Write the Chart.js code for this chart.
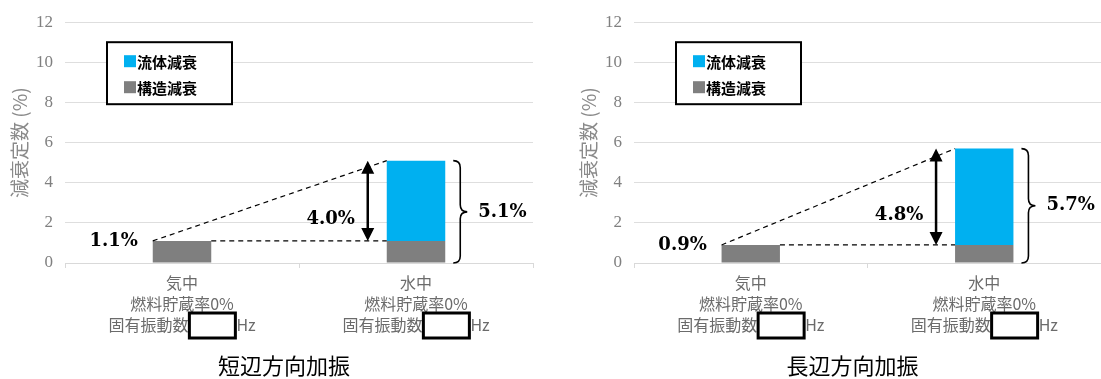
<!DOCTYPE html>
<html lang="ja">
<head>
<meta charset="utf-8">
<script src="https://cdn.jsdelivr.net/npm/chart.js@4.4.1/dist/chart.umd.min.js"></script>
<style>
  html, body { margin: 0; padding: 0; background: #fff; overflow: hidden; }
  #wrap { position: relative; width: 1101px; height: 379px; }
  canvas { position: absolute; top: 0; }
  #c1 { left: 0; }
  #c2 { left: 569px; }
</style>
</head>
<body>
<div id="wrap">
  <canvas id="c1" width="569" height="379"></canvas>
  <canvas id="c2" width="532" height="379"></canvas>
</div>
<script>
"use strict";

const categories = ["気中", "水中"];
const storageLabel = "燃料貯蔵率0%";
const freqLabel = "固有振動数";
const seriesNames = ["構造減衰", "流体減衰"];
const yTitle = "減衰定数 (%)";

const shortStructural = [1.1, 1.1];
const shortFluid = [0, 4.0];
const longStructural = [0.9, 0.9];
const longFluid = [0, 4.8];

const chartTitles = ["短辺方向加振", "長辺方向加振"];

const BLUE = "#00b0f0";
const GREY = "#7f7f7f";
const CJK = "'Noto Sans CJK JP', sans-serif";
const SERIF = "'DejaVu Serif', serif";
const GAP = "\u3000\u3000\u3000";

const pct = (v) => v.toFixed(1) + "%";

function drawBrace(ctx, x, y1, y2, w) {
  const mid = (y1 + y2) / 2;
  const r = w / 2;
  ctx.beginPath();
  ctx.moveTo(x, y1);
  ctx.quadraticCurveTo(x + r, y1, x + r, y1 + r);
  ctx.lineTo(x + r, mid - r);
  ctx.quadraticCurveTo(x + r, mid, x + w, mid);
  ctx.quadraticCurveTo(x + r, mid, x + r, mid + r);
  ctx.lineTo(x + r, y2 - r);
  ctx.quadraticCurveTo(x + r, y2, x, y2);
  ctx.stroke();
}

function drawDoubleArrow(ctx, x, yTop, yBot) {
  const hw = 6.5, hh = 13;
  ctx.lineWidth = 2.5;
  ctx.beginPath();
  ctx.moveTo(x, yTop + hh - 1);
  ctx.lineTo(x, yBot - hh + 1);
  ctx.stroke();
  ctx.beginPath();
  ctx.moveTo(x, yTop);
  ctx.lineTo(x - hw, yTop + hh);
  ctx.lineTo(x + hw, yTop + hh);
  ctx.closePath();
  ctx.moveTo(x, yBot);
  ctx.lineTo(x - hw, yBot - hh);
  ctx.lineTo(x + hw, yBot - hh);
  ctx.closePath();
  ctx.fill();
}

// 注記（破線・矢印・括弧・凡例・枠・タイトル）
const extrasPlugin = {
  id: "extras",
  afterDraw(chart, args, opts) {
    const ctx = chart.ctx;
    const area = chart.chartArea;
    const y = chart.scales.y;
    const x = chart.scales.x;
    const ds = chart.data.datasets;
    const s0 = chart.getDatasetMeta(0).data;

    const structural = ds[0].data;
    const fluid = ds[1].data;
    const base0 = structural[0];
    const base1 = structural[1];
    const total = structural[1] + fluid[1];

    const left0 = s0[0].x - s0[0].width / 2;
    const right0 = s0[0].x + s0[0].width / 2;
    const left1 = s0[1].x - s0[1].width / 2;
    const right1 = s0[1].x + s0[1].width / 2;
    const yBase0 = y.getPixelForValue(base0);
    const yBase1 = y.getPixelForValue(base1);
    const yTop = y.getPixelForValue(total);
    const yZero = y.getPixelForValue(0);

    ctx.save();
    ctx.strokeStyle = "#000";
    ctx.fillStyle = "#000";

    // dashed lines
    ctx.lineWidth = 1.2;
    ctx.setLineDash([5, 4]);
    ctx.beginPath();
    ctx.moveTo(left0, yBase0);
    ctx.lineTo(left1, yTop);
    ctx.moveTo(right0, yBase0);
    ctx.lineTo(left1, yBase1);
    ctx.stroke();
    ctx.setLineDash([]);

    drawDoubleArrow(ctx, left1 - 19, yTop, yBase1);

    ctx.lineWidth = 1.6;
    drawBrace(ctx, right1 + 8, yTop, yZero, 14);

    ctx.font = "bold 18px " + SERIF;
    ctx.textBaseline = "middle";
    ctx.textAlign = "center";
    ctx.fillText(pct(base0), left0 - 39, yBase0);
    ctx.fillText(pct(fluid[1]), left1 - 56, (yTop + yBase1) / 2 + 19);
    ctx.textAlign = "left";
    ctx.fillText(pct(total), right1 + 33, (yTop + yZero) / 2);

    // legend box
    const lx = area.left + 42, ly = area.top + 20, lw = 125, lh = 62;
    ctx.fillStyle = "#fff";
    ctx.fillRect(lx, ly, lw, lh);
    ctx.lineWidth = 2;
    ctx.strokeStyle = "#000";
    ctx.strokeRect(lx, ly, lw, lh);
    ctx.font = "bold 15px " + CJK;
    ctx.textAlign = "left";
    [1, 0].forEach((di, row) => {
      const cy = ly + 19 + row * 26;
      ctx.fillStyle = ds[di].backgroundColor;
      ctx.fillRect(lx + 17, cy - 6, 12, 12);
      ctx.fillStyle = "#000";
      ctx.fillText(ds[di].label, lx + 30, cy + 1);
    });

    // masked frequency boxes
    ctx.font = "16px " + CJK;
    const lineY = area.bottom + 5 + 4.5 + 21 * 2.5;
    chart.data.labels.forEach((lab, i) => {
      const line = lab[2];
      const cx = x.getPixelForValue(i);
      const start = cx - ctx.measureText(line).width / 2;
      const bx = start + ctx.measureText(freqLabel).width + 1;
      const bw = ctx.measureText(GAP).width - 2;
      ctx.fillStyle = "#fff";
      ctx.fillRect(bx, lineY - 12, bw, 25);
      ctx.lineWidth = 3;
      ctx.strokeStyle = "#000";
      ctx.strokeRect(bx, lineY - 12, bw, 25);
    });

    // title
    ctx.fillStyle = "#000";
    ctx.font = "22px " + CJK;
    ctx.textAlign = "center";
    ctx.fillText(opts.title, (area.left + area.right) / 2 - 15, 366);
    ctx.restore();
  },
};

function makeChart(id, structural, fluid, title, padRight) {
  const ctx = document.getElementById(id).getContext("2d");
  return new Chart(ctx, {
    type: "bar",
    data: {
      labels: categories.map((c) => [c, storageLabel, freqLabel + GAP + "Hz"]),
      datasets: [
        {
          label: seriesNames[0],
          data: structural,
          backgroundColor: GREY,
          categoryPercentage: 0.5,
          barPercentage: 0.5,
        },
        {
          label: seriesNames[1],
          data: fluid,
          backgroundColor: BLUE,
          categoryPercentage: 0.5,
          barPercentage: 0.5,
        },
      ],
    },
    options: {
      responsive: false,
      animation: false,
      layout: { padding: { top: 18, bottom: 24, left: 0, right: padRight } },
      plugins: {
        legend: { display: false },
        tooltip: { enabled: false },
        extras: { title: title },
      },
      scales: {
        x: {
          stacked: true,
          grid: {
            display: true,
            drawOnChartArea: false,
            tickLength: 5,
            color: "#d9d9d9",
          },
          border: { color: "#d9d9d9" },
          ticks: {
            padding: 4.5,
            color: "#6b6b6b",
            maxRotation: 0,
            autoSkip: false,
            font: { family: CJK, size: 16, lineHeight: 1.3125 },
          },
          afterFit(scale) {
            scale.height = 92;
          },
        },
        y: {
          stacked: true,
          min: 0,
          max: 12,
          ticks: {
            stepSize: 2,
            padding: 12,
            color: "#808080",
            font: { family: "'Liberation Serif', serif", size: 17 },
          },
          grid: { color: "#dedede", drawTicks: false },
          border: { display: false },
          title: {
            display: true,
            text: yTitle,
            color: "#8a8a8a",
            font: { family: CJK, size: 19 },
            padding: { top: 8, bottom: 0 },
          },
          afterFit(scale) {
            scale.width = 65;
          },
        },
      },
    },
    plugins: [extrasPlugin],
  });
}

makeChart("c1", shortStructural, shortFluid, chartTitles[0], 36);
makeChart("c2", longStructural, longFluid, chartTitles[1], 0);
</script>
</body>
</html>
